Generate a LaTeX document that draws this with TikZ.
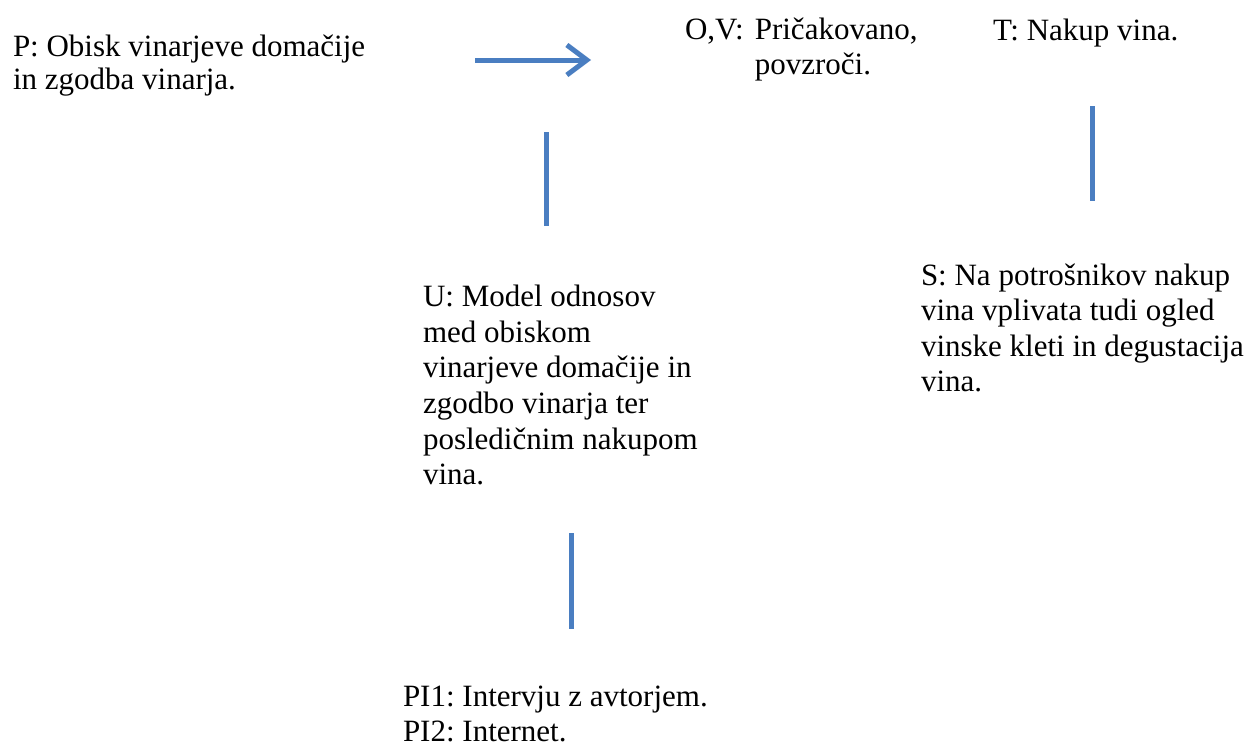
\documentclass[tikz,border=0pt]{standalone}
\usepackage{fontspec}
\setmainfont{Liberation Serif}
\usetikzlibrary{arrows.meta}
\definecolor{lineblue}{RGB}{74,126,193}
\newcommand{\textlines}[1]{\begin{tabular}[t]{@{}l@{}}#1\end{tabular}}
\begin{document}
\frenchspacing
\begin{tikzpicture}[x=1pt,y=-1pt,
  txt/.style={anchor=base west,inner sep=0pt,outer sep=0pt,font=\frenchspacing\fontsize{31}{35.6}\selectfont},
  tighttxt/.style={txt,font=\frenchspacing\fontsize{31}{33}\selectfont},
  bar/.style={draw=lineblue,line width=5pt},
  flow/.style={draw=lineblue,line width=5pt,-{Straight Barb[length=20pt,width=30pt,line width=5pt]}}]
\useasboundingbox (0,0) rectangle (1255,753);
\fill[white] (0,0) rectangle (1255,753);
% text blocks
\node[tighttxt] (P) at (13,56.5) {\textlines{P: Obisk vinarjeve domačije\\in zgodba vinarja.}};
\node[txt] (OV) at (685,39) {\begin{tabular}[t]{@{}l@{\hspace{11pt}}l@{}}O,V:&Pričakovano,\\&povzroči.\end{tabular}};
\node[txt] (T) at (993,40.7) {T: Nakup vina.};
\node[txt] (U) at (423,306.7) {\textlines{U: Model odnosov\\med obiskom\\vinarjeve domačije in\\zgodbo vinarja ter\\posledičnim nakupom\\vina.}};
\node[txt] (S) at (921,285) {\textlines{S: Na potrošnikov nakup\\vina vplivata tudi ogled\\vinske kleti in degustacija\\vina.}};
\node[txt] (PI) at (403,706) {\textlines{PI1: Intervju z avtorjem.\\PI2: Internet.}};
% connector end points
\coordinate (a1) at (475,60);
\coordinate (a2) at (591,60);
\coordinate (b1) at (546,132);
\coordinate (b2) at (546,226);
\coordinate (c1) at (1092,106);
\coordinate (c2) at (1092,201);
\coordinate (d1) at (571,533);
\coordinate (d2) at (571,629);
% connectors
\draw[flow] (a1) -- (a2);
\draw[bar] (b1) -- (b2);
\draw[bar] (c1) -- (c2);
\draw[bar] (d1) -- (d2);
\end{tikzpicture}
\end{document}
